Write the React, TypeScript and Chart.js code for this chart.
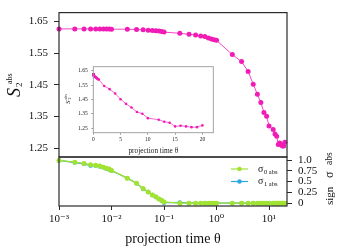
import React, { useEffect, useRef } from 'react';
import { Chart, registerables } from 'chart.js';

Chart.register(...registerables);

// ---- data ----
const theta = [
  0.001, 0.002, 0.003, 0.004, 0.005, 0.006, 0.007, 0.008, 0.009,
  0.01, 0.02, 0.03, 0.04, 0.05, 0.06, 0.07, 0.08, 0.09,
  0.1, 0.2, 0.3, 0.4, 0.5, 0.6, 0.7, 0.8, 0.9,
  1, 2, 3, 4, 5, 6, 7, 8, 9,
  10, 12, 13, 14, 15, 16, 17, 18, 19, 20,
];
const s2Abs = [
  1.626, 1.626, 1.626, 1.626, 1.626, 1.626, 1.626, 1.626, 1.626,
  1.625, 1.625, 1.624, 1.623, 1.622, 1.621, 1.620, 1.619, 1.618,
  1.616, 1.612, 1.609, 1.607, 1.604, 1.602, 1.597, 1.594, 1.592,
  1.590, 1.545, 1.523, 1.492, 1.452, 1.420, 1.394, 1.363, 1.351,
  1.320, 1.309, 1.295, 1.288, 1.262, 1.267, 1.262, 1.257, 1.257, 1.269,
];
const sigma0Abs = [
  0.99, 0.95, 0.92, 0.89, 0.88, 0.86, 0.83, 0.81, 0.79,
  0.76, 0.58, 0.46, 0.34, 0.26, 0.19, 0.15, 0.10, 0.07,
  0.03, 0, 0, 0, 0, 0, 0, 0, 0,
  0, 0, 0, 0, 0, 0, 0, 0, 0,
  0, 0, 0, 0, 0, 0, 0, 0, 0, 0,
];
const sigma1Abs = [
  0.99, 0.94, 0.91, 0.87, 0.87, 0.85, 0.83, 0.80, 0.78,
  0.75, 0.58, 0.46, 0.33, 0.26, 0.19, 0.14, 0.10, 0.06,
  0.01, 0.02, 0, 0, 0, 0, 0, 0, 0,
  0, 0, 0, 0, 0, 0, 0, 0, 0,
  0, 0, 0, 0, 0, 0, 0, 0, 0, 0,
];
const mainYTicks = [1.25, 1.35, 1.45, 1.55, 1.65];
const signTicks = [0, 0.25, 0.5, 0.75, 1.0];
const signTickLabels = ['0', '0.25', '0.5', '0.75', '1.0'];
const logTicks = [0.001, 0.01, 0.1, 1, 10];
const logTickLabels = ['10\u207B\u00B3', '10\u207B\u00B2', '10\u207B\u00B9', '10\u2070', '10\u00B9'];
const insetXTicks = [0, 5, 10, 15, 20];
const xTitle = 'projection time \u03B8';
const legendLabels = ['\u03C3', '\u03C3'];
const legendSubs = ['0 abs', '1 abs'];

// ---- style ----
const SERIF = '"Liberation Serif", "DejaVu Serif", serif';
const PINK = '#f01cb5';
const PINK_LINE = '#f545c8';
const GREEN = '#a2e332';
const BLUE = '#2ea6e6';
const AX = '#2a2a2a';

function framePlugin(color: string, width: number, extra?: (c: any) => void) {
  return {
    id: 'frameAndText',
    afterDraw(chart: any) {
      const { ctx, chartArea: a } = chart;
      ctx.save();
      ctx.strokeStyle = color;
      ctx.lineWidth = width;
      ctx.strokeRect(a.left, a.top, a.right - a.left, a.bottom - a.top);
      ctx.restore();
      if (extra) {
        ctx.save();
        extra(chart);
        ctx.restore();
      }
    },
  };
}

function rot(ctx: CanvasRenderingContext2D, x: number, y: number, fn: () => void) {
  ctx.save();
  ctx.translate(x, y);
  ctx.rotate(-Math.PI / 2);
  fn();
  ctx.restore();
}

export default function App() {
  const topRef = useRef<HTMLCanvasElement>(null);
  const botRef = useRef<HTMLCanvasElement>(null);
  const insetRef = useRef<HTMLCanvasElement>(null);

  useEffect(() => {
    const charts: Chart[] = [];
    const pts = (ys: number[]) => theta.map((x, i) => ({ x, y: ys[i] }));

    // ---------- top panel ----------
    charts.push(
      new Chart(topRef.current as HTMLCanvasElement, {
        type: 'line',
        data: {
          datasets: [
            {
              data: pts(s2Abs),
              borderColor: PINK_LINE,
              borderWidth: 1,
              pointBackgroundColor: PINK,
              pointBorderColor: PINK,
              pointBorderWidth: 0,
              pointRadius: 2.5,
              clip: false as any,
            },
          ],
        },
        options: {
          responsive: false,
          animation: false,
          events: [],
          layout: { autoPadding: false, padding: { left: 0, top: 12, right: 51, bottom: 93 } } as any,
          plugins: { legend: { display: false }, tooltip: { enabled: false } },
          scales: {
            x: { type: 'logarithmic', min: 0.001, max: 22, display: false },
            y: {
              type: 'linear',
              position: 'left',
              min: 1.2227,
              max: 1.6773,
              afterFit: (s: any) => { s.width = 59; },
              afterBuildTicks: (s: any) => { s.ticks = mainYTicks.map((v) => ({ value: v })); },
              ticks: {
                font: { family: SERIF, size: 11 },
                color: '#111',
                padding: 6,
                autoSkip: false,
                callback: (v: any, i: number) => mainYTicks[i].toFixed(2),
              },
              grid: { drawOnChartArea: false, drawTicks: true, tickLength: 5, color: AX, lineWidth: 1 },
              border: { display: false },
            },
          },
        },
        plugins: [
          framePlugin(AX, 1.2, (chart: any) => {
            const ctx = chart.ctx as CanvasRenderingContext2D;
            ctx.fillStyle = '#111';
            ctx.textBaseline = 'alphabetic';
            rot(ctx, 20, 97, () => {
              ctx.font = `italic 18px ${SERIF}`;
              ctx.fillText('S', 0, 0);
              ctx.font = `8px ${SERIF}`;
              ctx.fillText('abs', 13, -8);
              ctx.font = `9px ${SERIF}`;
              ctx.fillText('2', 10, 1.5);
            });
          }),
        ],
      } as any)
    );

    // ---------- bottom panel ----------
    charts.push(
      new Chart(botRef.current as HTMLCanvasElement, {
        type: 'line',
        data: {
          datasets: [
            {
              data: pts(sigma0Abs),
              borderColor: GREEN,
              borderWidth: 1.2,
              pointBackgroundColor: GREEN,
              pointBorderColor: GREEN,
              pointBorderWidth: 0,
              pointRadius: 2.5,
              clip: false as any,
            },
            {
              data: pts(sigma1Abs),
              borderColor: BLUE,
              borderWidth: 1.2,
              pointBackgroundColor: BLUE,
              pointBorderColor: BLUE,
              pointBorderWidth: 0,
              pointRadius: 2.2,
              clip: false as any,
            },
          ],
        },
        options: {
          responsive: false,
          animation: false,
          events: [],
          layout: { autoPadding: false, padding: { left: 59, top: 157, right: 0, bottom: 0 } } as any,
          plugins: { legend: { display: false }, tooltip: { enabled: false } },
          scales: {
            x: {
              type: 'logarithmic',
              position: 'bottom',
              min: 0.001,
              max: 22,
              afterFit: (s: any) => { s.height = 44; },
              afterBuildTicks: (s: any) => { s.ticks = logTicks.map((v) => ({ value: v })); },
              ticks: {
                font: { family: SERIF, size: 11 },
                color: '#111',
                padding: 3,
                autoSkip: false,
                maxRotation: 0,
                callback: (v: any, i: number) => logTickLabels[i],
              },
              grid: { drawOnChartArea: false, drawTicks: true, tickLength: 4, color: AX, lineWidth: 1 },
              border: { display: false },
            },
            y: {
              type: 'linear',
              position: 'right',
              min: -0.065,
              max: 1.07,
              afterFit: (s: any) => { s.width = 51; },
              afterBuildTicks: (s: any) => { s.ticks = signTicks.map((v) => ({ value: v })); },
              ticks: {
                font: { family: SERIF, size: 11 },
                color: '#111',
                padding: 6,
                autoSkip: false,
                callback: (v: any, i: number) => signTickLabels[i],
              },
              grid: { drawOnChartArea: false, drawTicks: true, tickLength: 5, color: AX, lineWidth: 1 },
              border: { display: false },
            },
          },
        },
        plugins: [
          framePlugin(AX, 1.2, (chart: any) => {
            const ctx = chart.ctx as CanvasRenderingContext2D;
            const a = chart.chartArea;
            // legend
            const cols = [GREEN, BLUE];
            const ys = [169, 181.5];
            for (let k = 0; k < 2; k++) {
              ctx.strokeStyle = cols[k];
              ctx.fillStyle = cols[k];
              ctx.lineWidth = 1.2;
              ctx.beginPath();
              ctx.moveTo(231, ys[k]);
              ctx.lineTo(248, ys[k]);
              ctx.stroke();
              ctx.beginPath();
              ctx.arc(239.5, ys[k], 2.3, 0, Math.PI * 2);
              ctx.fill();
              ctx.fillStyle = '#111';
              ctx.textBaseline = 'alphabetic';
              ctx.font = `10px ${SERIF}`;
              ctx.fillText(legendLabels[k], 258, ys[k] + 2.5);
              const w = ctx.measureText(legendLabels[k]).width;
              ctx.font = `6.5px ${SERIF}`;
              ctx.fillText(legendSubs[k], 258 + w + 0.5, ys[k] + 4.5);
            }
            // x title
            ctx.fillStyle = '#111';
            ctx.font = `14px ${SERIF}`;
            ctx.textAlign = 'center';
            ctx.fillText(xTitle, (a.left + a.right) / 2, 243);
            ctx.textAlign = 'left';
            // right axis title
            rot(ctx, 333, 205, () => {
              ctx.font = `11px ${SERIF}`;
              ctx.fillText('sign', 0, 0);
              ctx.font = `12px ${SERIF}`;
              ctx.fillText('\u03C3', 27, 0);
              ctx.font = `9.5px ${SERIF}`;
              ctx.fillText('abs', 40, -1);
            });
          }),
        ],
      } as any)
    );

    // ---------- inset ----------
    charts.push(
      new Chart(insetRef.current as HTMLCanvasElement, {
        type: 'line',
        data: {
          datasets: [
            {
              data: pts(s2Abs),
              borderColor: PINK_LINE,
              borderWidth: 0.8,
              pointBackgroundColor: PINK,
              pointBorderColor: PINK,
              pointBorderWidth: 0,
              pointRadius: 1.3,
              clip: false as any,
            },
          ],
        },
        options: {
          responsive: false,
          animation: false,
          events: [],
          layout: { autoPadding: false, padding: { left: 0, top: 66.7, right: 124.7, bottom: 0 } } as any,
          plugins: { legend: { display: false }, tooltip: { enabled: false } },
          scales: {
            x: {
              type: 'linear',
              position: 'bottom',
              min: 0,
              max: 22,
              afterFit: (s: any) => { s.height = 117.3; },
              afterBuildTicks: (s: any) => { s.ticks = insetXTicks.map((v) => ({ value: v })); },
              ticks: {
                font: { family: SERIF, size: 5.5 },
                color: '#222',
                padding: 2,
                autoSkip: false,
                maxRotation: 0,
                callback: (v: any, i: number) => String(insetXTicks[i]),
              },
              grid: { drawOnChartArea: false, drawTicks: true, tickLength: 2, color: '#888', lineWidth: 0.8 },
              border: { display: false },
            },
            y: {
              type: 'linear',
              position: 'left',
              min: 1.218,
              max: 1.68,
              afterFit: (s: any) => { s.width = 93.3; },
              afterBuildTicks: (s: any) => { s.ticks = mainYTicks.map((v) => ({ value: v })); },
              ticks: {
                font: { family: SERIF, size: 5.5 },
                color: '#222',
                padding: 3.5,
                autoSkip: false,
                callback: (v: any, i: number) => mainYTicks[i].toFixed(2),
              },
              grid: { drawOnChartArea: false, drawTicks: true, tickLength: 2, color: '#888', lineWidth: 0.8 },
              border: { display: false },
            },
          },
        },
        plugins: [
          {
            id: 'insetBg',
            beforeDraw(chart: any) {
              const { ctx, chartArea: a } = chart;
              ctx.save();
              ctx.fillStyle = '#fff';
              ctx.fillRect(a.left, a.top, a.right - a.left, a.bottom - a.top);
              ctx.restore();
            },
          },
          framePlugin('#999', 0.9, (chart: any) => {
            const ctx = chart.ctx as CanvasRenderingContext2D;
            const a = chart.chartArea;
            ctx.fillStyle = '#222';
            ctx.textBaseline = 'alphabetic';
            ctx.font = `7.3px ${SERIF}`;
            ctx.textAlign = 'center';
            ctx.fillText(xTitle, (a.left + a.right) / 2, 152.5);
            ctx.textAlign = 'left';
            rot(ctx, 70, 104, () => {
              ctx.font = `italic 7px ${SERIF}`;
              ctx.fillText('S', 0, 0);
              ctx.font = `4px ${SERIF}`;
              ctx.fillText('abs', 4.5, -3.5);
              ctx.fillText('2', 4.5, 1);
            });
          }),
        ],
      } as any)
    );

    return () => charts.forEach((c) => c.destroy());
  }, []);

  const cs: React.CSSProperties = { position: 'absolute', left: 0, top: 0 };
  return (
    <div style={{ position: 'absolute', left: 0, top: 0, width: 338, height: 250, background: '#fff', overflow: 'hidden' }}>
      <canvas ref={topRef} width={338} height={250} style={cs} />
      <canvas ref={botRef} width={338} height={250} style={cs} />
      <canvas ref={insetRef} width={338} height={250} style={cs} />
    </div>
  );
}
